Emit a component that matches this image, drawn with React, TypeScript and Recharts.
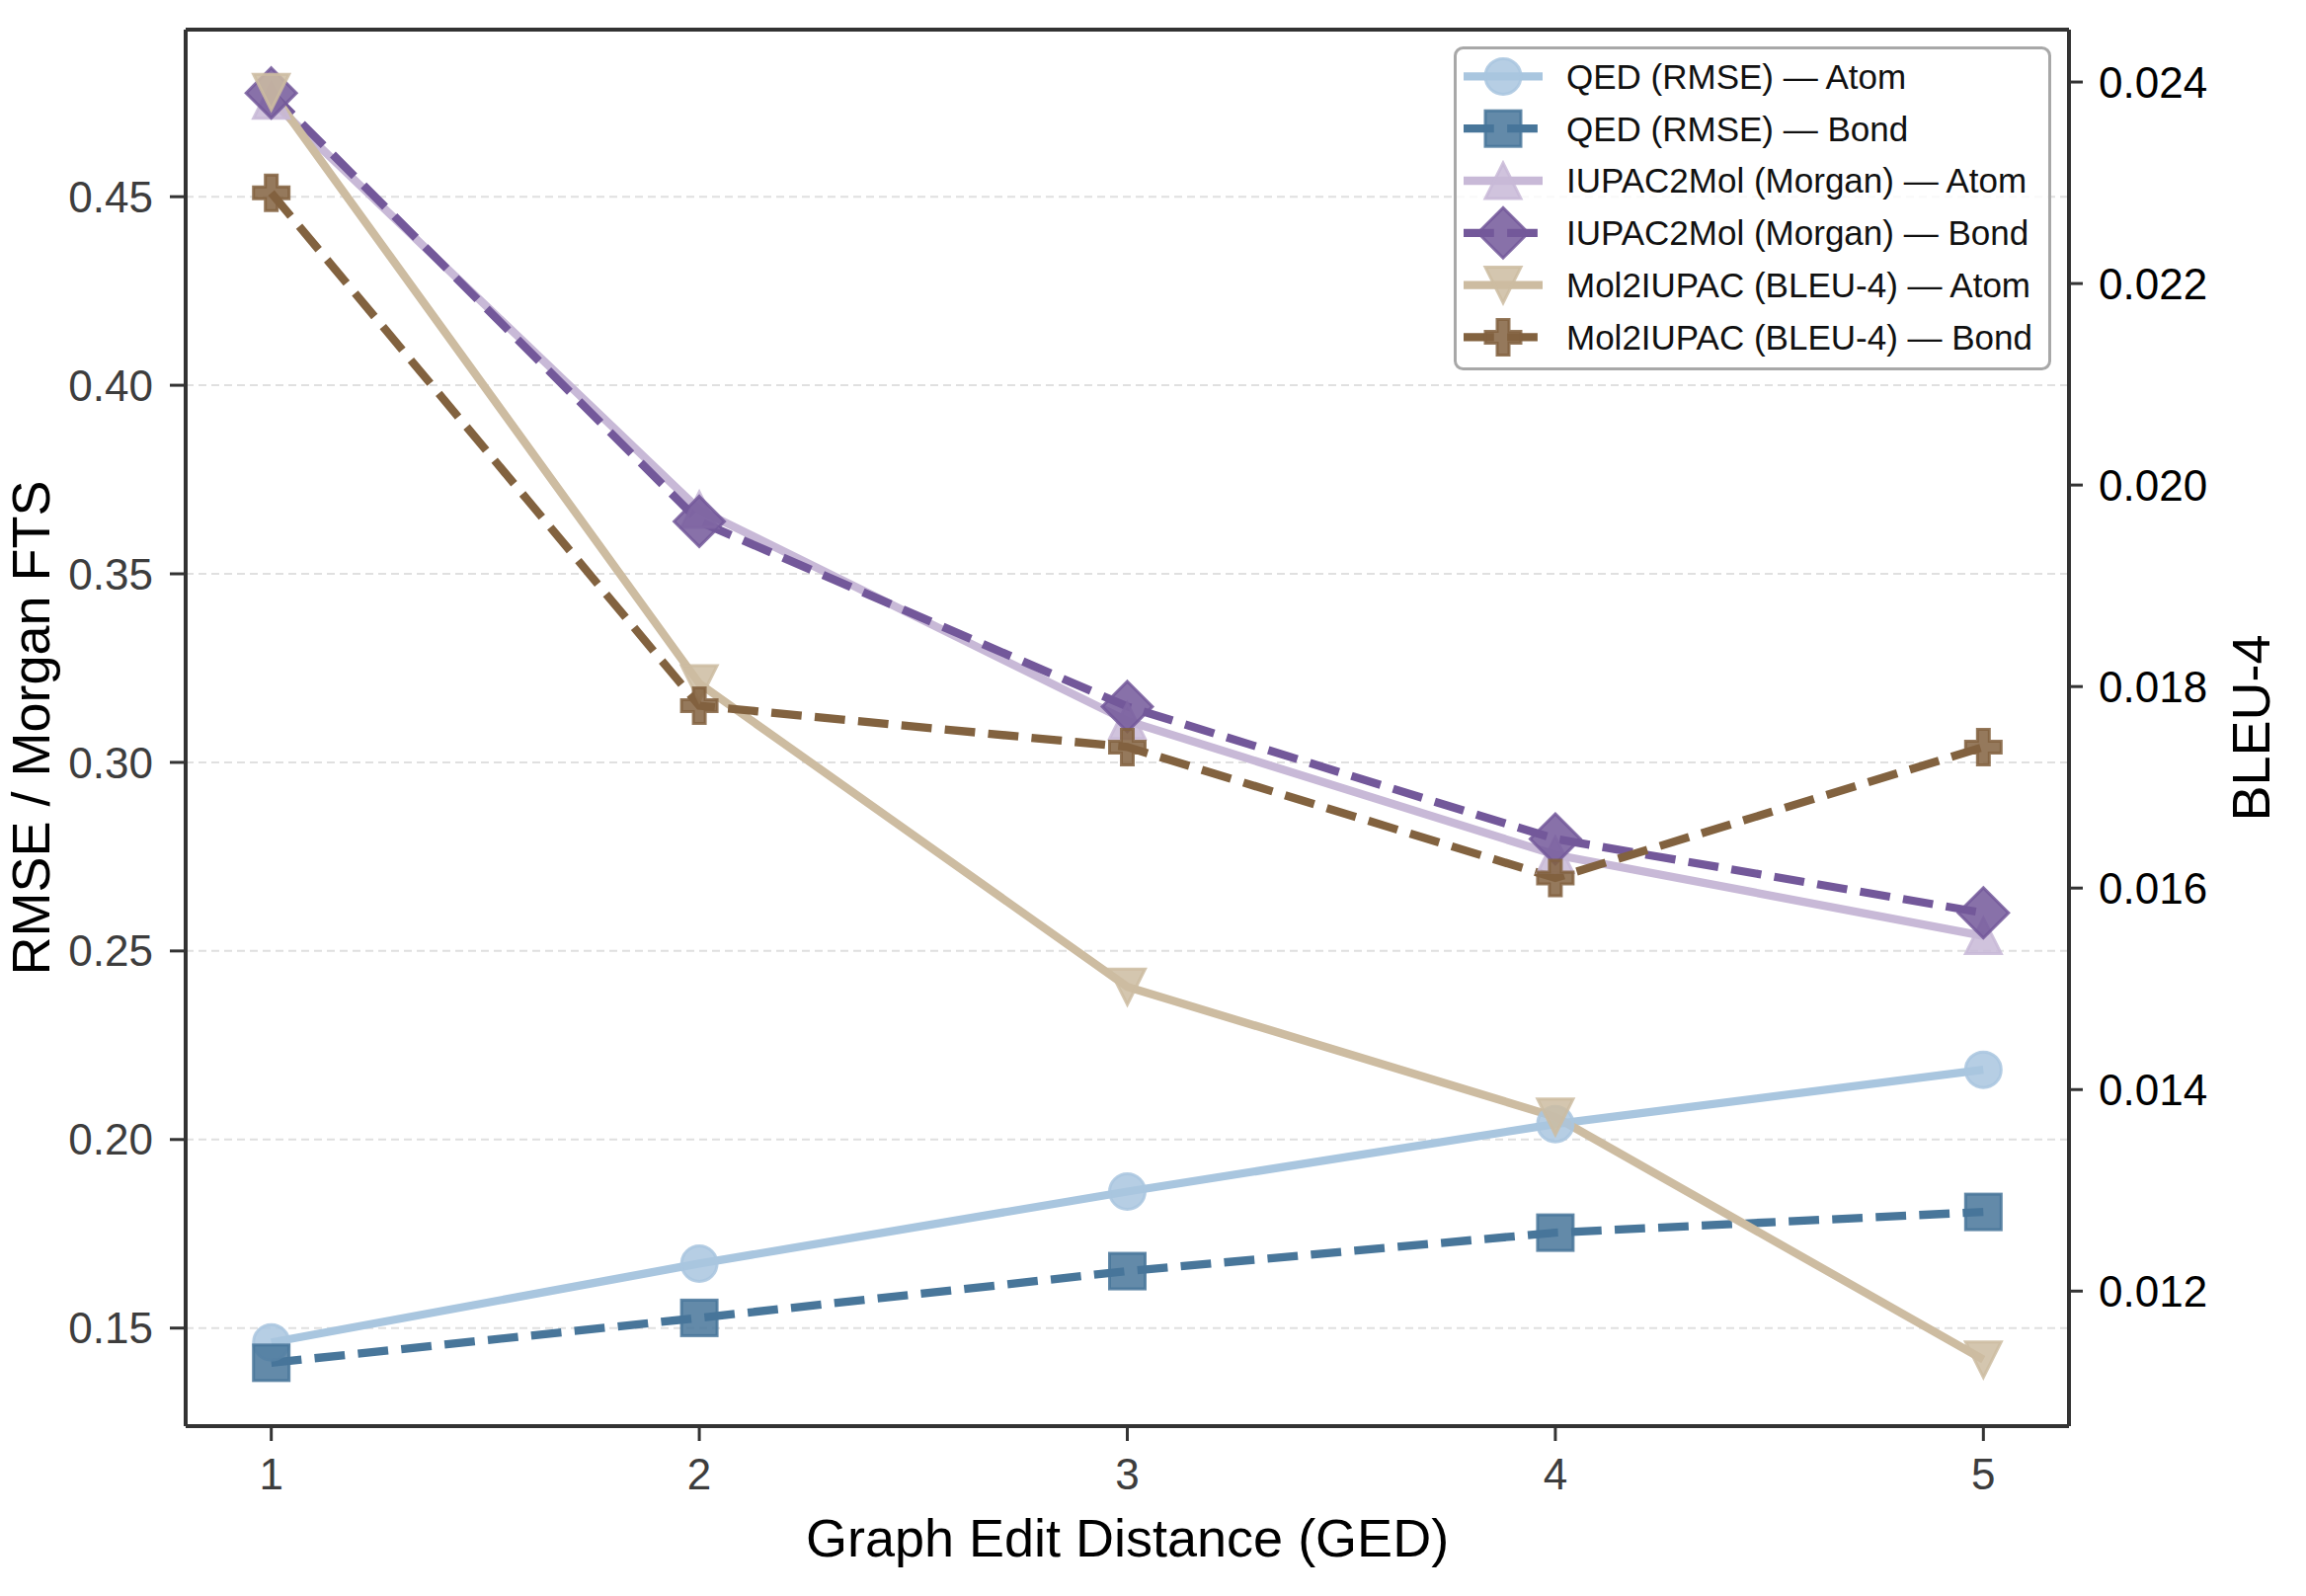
import React from 'react';
import { LineChart, Line, XAxis, YAxis, CartesianGrid, Legend, ReferenceLine } from 'recharts';

// ---------- data ----------
const ged = [1, 2, 3, 4, 5];
const qedAtom = [0.1462, 0.1671, 0.1862, 0.2041, 0.2185];
const qedBond = [0.1408, 0.1527, 0.1651, 0.1753, 0.1808];
const iupacAtom = [0.4755, 0.367, 0.311, 0.2755, 0.254];
const iupacBond = [0.4775, 0.3639, 0.3148, 0.2797, 0.2601];
const molAtom = [0.0239, 0.01803, 0.01502, 0.01373, 0.01132];
const molBond = [0.0229, 0.01781, 0.0174, 0.0161, 0.0174];

const xTicks = [1, 2, 3, 4, 5];
const leftTicks = [0.15, 0.2, 0.25, 0.3, 0.35, 0.4, 0.45];
const rightTicks = [0.012, 0.014, 0.016, 0.018, 0.02, 0.022, 0.024];

const X_DOMAIN: [number, number] = [0.8, 5.2];
const LEFT_DOMAIN: [number, number] = [0.124, 0.4943];
const RIGHT_DOMAIN: [number, number] = [0.01066, 0.02452];

const data = ged.map((g, i) => ({
  ged: g,
  qedAtom: qedAtom[i],
  qedBond: qedBond[i],
  iupacAtom: iupacAtom[i],
  iupacBond: iupacBond[i],
  molAtom: molAtom[i],
  molBond: molBond[i],
}));

type MarkerKind = 'circle' | 'square' | 'triangleUp' | 'diamond' | 'triangleDown' | 'plus';

const SERIES: { key: string; name: string; color: string; axis: string; dashed: boolean; marker: MarkerKind }[] = [
  { key: 'qedAtom', name: 'QED (RMSE) — Atom', color: '#a9c6df', axis: 'left', dashed: false, marker: 'circle' },
  { key: 'qedBond', name: 'QED (RMSE) — Bond', color: '#48769a', axis: 'left', dashed: true, marker: 'square' },
  { key: 'iupacAtom', name: 'IUPAC2Mol (Morgan) — Atom', color: '#c8b9d7', axis: 'left', dashed: false, marker: 'triangleUp' },
  { key: 'iupacBond', name: 'IUPAC2Mol (Morgan) — Bond', color: '#73589a', axis: 'left', dashed: true, marker: 'diamond' },
  { key: 'molAtom', name: 'Mol2IUPAC (BLEU-4) — Atom', color: '#cdbca1', axis: 'right', dashed: false, marker: 'triangleDown' },
  { key: 'molBond', name: 'Mol2IUPAC (BLEU-4) — Bond', color: '#82623f', axis: 'right', dashed: true, marker: 'plus' },
];

const FONT = '"Liberation Sans", Arial, Helvetica, sans-serif';
const MS = 36;
const LW = 8.3;
const DASH = '30.8 13.3';

const CHART_W = 2335;
const CHART_H = 1616;

function Marker({ kind, cx, cy, color, s }: { kind: MarkerKind; cx: number; cy: number; color: string; s: number }) {
  const h = s / 2;
  const common = { fill: color, fillOpacity: 0.85, stroke: color, strokeOpacity: 0.85, strokeWidth: 3 };
  switch (kind) {
    case 'circle':
      return <circle cx={cx} cy={cy} r={h} {...common} />;
    case 'square':
      return <rect x={cx - h} y={cy - h} width={s} height={s} {...common} />;
    case 'triangleUp':
      return <polygon points={`${cx},${cy - h} ${cx - h},${cy + h} ${cx + h},${cy + h}`} {...common} />;
    case 'triangleDown':
      return <polygon points={`${cx},${cy + h} ${cx - h},${cy - h} ${cx + h},${cy - h}`} {...common} />;
    case 'diamond': {
      const d = h * 1.414;
      return <polygon points={`${cx},${cy - d} ${cx + d},${cy} ${cx},${cy + d} ${cx - d},${cy}`} {...common} />;
    }
    case 'plus': {
      const a = s / 6;
      const pts = [
        [-a, -h], [a, -h], [a, -a], [h, -a], [h, a], [a, a],
        [a, h], [-a, h], [-a, a], [-h, a], [-h, -a], [-a, -a],
      ].map(([x, y]) => `${cx + x},${cy + y}`).join(' ');
      return <polygon points={pts} {...common} />;
    }
  }
  return null;
}

function renderLegend(props: any) {
  const payload: any[] = props && props.payload ? props.payload : [];
  const items = SERIES.filter((s) => payload.length === 0 || payload.some((p) => p.dataKey === s.key));
  const W = 605;
  const H = 328;
  return (
    <svg width={W} height={H} style={{ display: 'block', fontFamily: FONT }}>
      <rect x={1.5} y={1.5} width={W - 3} height={H - 3} rx={8} ry={8} fill="#ffffff" fillOpacity={0.8} stroke="#a8a8a8" strokeWidth={3} />
      {items.map((s, i) => {
        const cy = 30.4 + i * 52.8;
        return (
          <g key={s.key}>
            <line x1={10} x2={90} y1={cy} y2={cy} stroke={s.color} strokeWidth={LW} strokeDasharray={s.dashed ? DASH : undefined} />
            <Marker kind={s.marker} cx={50} cy={cy} color={s.color} s={MS} />
            <text x={114} y={cy + 12.4} fontSize={35} fill="#111" fontFamily={FONT}>{s.name}</text>
          </g>
        );
      })}
    </svg>
  );
}

const xLabel = (props: any) => {
  const vb = (props && props.viewBox) || { x: 188, y: 1444, width: 1907, height: 172 };
  return (
    <text x={vb.x + vb.width / 2} y={1576} textAnchor="middle" fontSize={54} fill="#000" fontFamily={FONT}>
      Graph Edit Distance (GED)
    </text>
  );
};

const leftLabel = (props: any) => {
  const vb = (props && props.viewBox) || { x: 0, y: 30, width: 188, height: 1414 };
  const cx = 50;
  const cy = vb.y + vb.height / 2;
  return (
    <text x={cx} y={cy} transform={`rotate(-90, ${cx}, ${cy})`} textAnchor="middle" fontSize={54} fill="#000" fontFamily={FONT}>
      RMSE / Morgan FTS
    </text>
  );
};

const rightLabel = (props: any) => {
  const vb = (props && props.viewBox) || { x: 2095, y: 30, width: 240, height: 1414 };
  const cx = 2298;
  const cy = vb.y + vb.height / 2;
  return (
    <text x={cx} y={cy} transform={`rotate(-90, ${cx}, ${cy})`} textAnchor="middle" fontSize={54} fill="#000" fontFamily={FONT}>
      BLEU-4
    </text>
  );
};

export default function App() {
  return (
    <div style={{ width: CHART_W, height: CHART_H, position: 'relative', left: -8, top: -8, fontFamily: FONT }}>
      <LineChart width={CHART_W} height={CHART_H} data={data} margin={{ top: 30, right: 0, bottom: 0, left: 0 }}>
        <CartesianGrid yAxisId="left" vertical={false} stroke="#e0e0e0" strokeWidth={2} strokeDasharray="8 5" />
        <XAxis
          dataKey="ged"
          type="number"
          domain={X_DOMAIN}
          ticks={xTicks}
          allowDataOverflow
          height={172}
          tickSize={15}
          tickMargin={18}
          axisLine={{ stroke: '#333', strokeWidth: 4 }}
          tickLine={{ stroke: '#333', strokeWidth: 3 }}
          tick={{ fontSize: 44, fill: '#3d3d3d', fontFamily: FONT }}
          tickFormatter={(v: number) => String(v)}
          label={xLabel}
        />
        <YAxis
          yAxisId="left"
          orientation="left"
          type="number"
          domain={LEFT_DOMAIN}
          ticks={leftTicks}
          allowDataOverflow
          width={188}
          tickSize={16}
          tickMargin={17}
          axisLine={{ stroke: '#333', strokeWidth: 4 }}
          tickLine={{ stroke: '#333', strokeWidth: 3 }}
          tick={{ fontSize: 44, fill: '#3d3d3d', fontFamily: FONT }}
          tickFormatter={(v: number) => v.toFixed(2)}
          label={leftLabel}
        />
        <YAxis
          yAxisId="right"
          orientation="right"
          type="number"
          domain={RIGHT_DOMAIN}
          ticks={rightTicks}
          allowDataOverflow
          width={240}
          tickSize={14}
          tickMargin={16}
          axisLine={{ stroke: '#333', strokeWidth: 4 }}
          tickLine={{ stroke: '#333', strokeWidth: 3 }}
          tick={{ fontSize: 44, fill: '#000', fontFamily: FONT }}
          tickFormatter={(v: number) => v.toFixed(3)}
          label={rightLabel}
        />
        <ReferenceLine yAxisId="left" y={LEFT_DOMAIN[1]} stroke="#333" strokeWidth={4} />
        {SERIES.map((s) => (
          <Line
            key={s.key}
            type="linear"
            dataKey={s.key}
            name={s.name}
            yAxisId={s.axis}
            stroke={s.color}
            strokeWidth={LW}
            strokeDasharray={s.dashed ? DASH : undefined}
            activeDot={false}
            isAnimationActive={false}
            dot={(p: any) => (
              <Marker key={`${s.key}-${p.index}`} kind={s.marker} cx={p.cx} cy={p.cy} color={s.color} s={MS} />
            )}
          />
        ))}
        <Legend
          layout="horizontal"
          verticalAlign="middle"
          align="center"
          content={renderLegend}
          wrapperStyle={{ position: 'absolute', left: 1472, top: 47, width: 605, height: 328 }}
        />
      </LineChart>
    </div>
  );
}
